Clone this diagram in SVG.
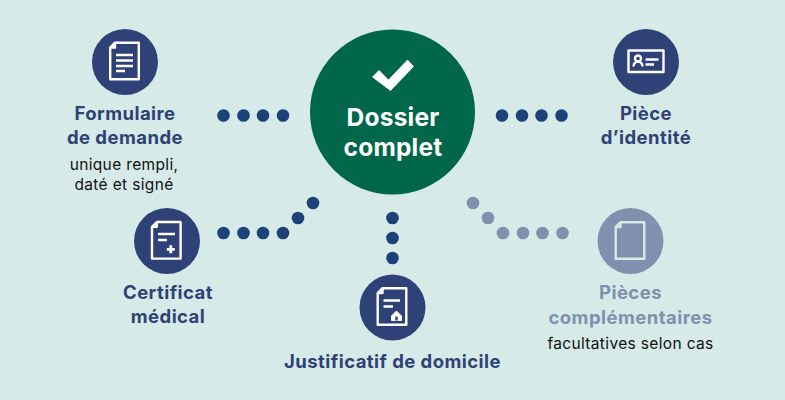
<svg xmlns="http://www.w3.org/2000/svg" width="785" height="400" viewBox="0 0 785 400">
<style>
text{font-family:"Inter","Liberation Sans",sans-serif;text-anchor:middle}
.t{font-size:18.500px;font-weight:700;fill:#2f4277;letter-spacing:.45px}
.g{font-size:18.500px;font-weight:700;fill:#8090ae;letter-spacing:.45px}
.s{font-size:15.500px;font-weight:400;fill:#111;letter-spacing:.35px}
.c{font-size:24.500px;font-weight:700;fill:#fff;letter-spacing:.2px}
.i{fill:none;stroke:#fff;stroke-width:2.400;stroke-linejoin:round}
.d{fill:#1c4279}
.e{fill:#8090ae}
.n{fill:#2f4277}
</style>
<defs>
<path id="doc" d="M-9.500,-18.300H14.300V18.300H-14.300V-13.500Z M-14.300,-13.500H-9.500V-18.300"/>
</defs>
<rect width="785" height="400" fill="#d6eae8"/>
<g id="connectors">
<g class="d">
<circle cx="223.500" cy="115.500" r="6.300"/><circle cx="243.500" cy="115.500" r="6.300"/><circle cx="263" cy="115.500" r="6.300"/><circle cx="283" cy="115.500" r="6.300"/>
<circle cx="502" cy="115.500" r="6.300"/><circle cx="522" cy="115.500" r="6.300"/><circle cx="541.500" cy="115.500" r="6.300"/><circle cx="561.500" cy="115.500" r="6.300"/>
<circle cx="223.500" cy="233" r="6.300"/><circle cx="243.500" cy="233" r="6.300"/><circle cx="263" cy="233" r="6.300"/><circle cx="283" cy="233" r="6.300"/><circle cx="298" cy="218" r="6.300"/><circle cx="313" cy="203" r="6.300"/>
<circle cx="392.500" cy="218" r="6.300"/><circle cx="392.500" cy="238" r="6.300"/><circle cx="392.500" cy="258" r="6.300"/>
</g>
<g class="e">
<circle cx="473" cy="203" r="6.300"/><circle cx="488" cy="218" r="6.300"/><circle cx="503" cy="233" r="6.300"/><circle cx="523" cy="233" r="6.300"/><circle cx="542.500" cy="233" r="6.300"/><circle cx="562.500" cy="233" r="6.300"/>
</g>
</g>
<g id="center">
<circle cx="392.500" cy="112" r="82.500" fill="#00674b"/>
<path d="M372.500,77L379,70.500L388.500,80L407.500,60L413.500,66.500L390.500,90.500Z" fill="#fff" stroke="#fff" stroke-width=".8" stroke-linejoin="round"/>
<text class="c" x="393" y="126">Dossier</text>
<text class="c" x="393" y="156">complet</text>
</g>
<g id="formulaire">
<circle class="n" cx="125" cy="62" r="33"/>
<use href="#doc" x="124.500" y="61" class="i"/>
<path class="i" d="M116,55H133M116,60.500H133M116,66H133M116,71H125"/>
<text class="t" x="125" y="120">Formulaire</text>
<text class="t" x="125" y="144">de demande</text>
<text class="s" x="124" y="169.500">unique rempli,</text>
<text class="s" x="124" y="189.500">daté et signé</text>
</g>
<g id="identite">
<circle class="n" cx="646" cy="62" r="33"/>
<rect class="i" x="628.500" y="50.500" width="35" height="21.500"/>
<circle class="i" cx="638" cy="58.500" r="3"/>
<path class="i" d="M633.500,66.500C634,60 642,60 642.500,66.500"/>
<path class="i" d="M645.500,59.500H658.500M645.500,64.500H654"/>
<text class="t" x="646" y="120">Pièce</text>
<text class="t" x="646" y="144">d’identité</text>
</g>
<g id="certificat">
<circle class="n" cx="167" cy="241" r="33"/>
<use href="#doc" x="166.300" y="240.300" class="i"/>
<path class="i" d="M158,234H175M158,240H167"/>
<path d="M166.800,249.300H174.800M170.800,245.300V253.300" fill="none" stroke="#fff" stroke-width="2.800"/>
<text class="t" x="168" y="299">Certificat</text>
<text class="t" x="168" y="323">médical</text>
</g>
<g id="justificatif">
<circle class="n" cx="392.500" cy="307.500" r="33"/>
<use href="#doc" x="392" y="306.500" class="i"/>
<path class="i" d="M383.500,300.500H400M383.500,306.500H393"/>
<path d="M391.500,316L396.500,311L401.500,316V320.500H391.500Z" fill="#fff" stroke="#fff" stroke-linejoin="round"/>
<rect x="395.300" y="316.500" width="2.400" height="4" fill="#2f4277"/>
<text class="t" x="392.500" y="368">Justificatif de domicile</text>
</g>
<g id="pieces">
<circle class="e" cx="630.500" cy="241" r="33"/>
<use href="#doc" x="630" y="240.500" fill="none" stroke="#d6eae8" stroke-width="2.400" stroke-linejoin="round"/>
<text class="g" x="630.500" y="299">Pièces</text>
<text class="g" x="630.500" y="324">complémentaires</text>
<text class="s" x="630.500" y="349">facultatives selon cas</text>
</g>
</svg>
